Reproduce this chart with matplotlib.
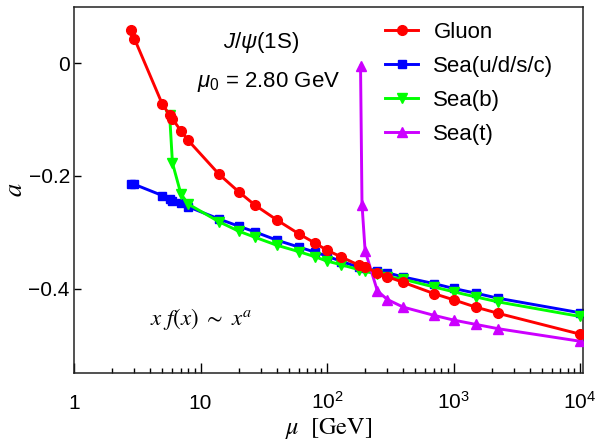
import numpy as np
import matplotlib
matplotlib.use("Agg")
import matplotlib.pyplot as plt

plt.rcParams['font.family'] = ['Liberation Sans', 'DejaVu Sans']
plt.rcParams['mathtext.fontset'] = 'custom'
plt.rcParams['mathtext.rm'] = 'Liberation Sans'
plt.rcParams['mathtext.it'] = 'Liberation Sans:italic'

# data
mu_gluon = [2.8, 3.0, 5.0, 5.7, 6.0, 7, 8, 14, 20, 27, 40, 60, 80, 100, 130,
            180, 200, 250, 300, 400, 700, 1000, 1500, 2250, 10000]
a_gluon = [0.059, 0.044, -0.073, -0.0915, -0.0986, -0.120, -0.137, -0.197, -0.228,
           -0.252, -0.278, -0.303, -0.319, -0.332, -0.344, -0.359, -0.362, -0.372,
           -0.379, -0.389, -0.409, -0.420, -0.433, -0.444, -0.481]

mu_sea = mu_gluon
a_sea = [-0.2142, -0.2150, -0.2349, -0.2410, -0.2440, -0.2478, -0.2549, -0.2765,
         -0.2892, -0.2995, -0.314, -0.3264, -0.3352, -0.3423, -0.352, -0.3623,
         -0.364, -0.3685, -0.372, -0.3795, -0.3912, -0.3998, -0.4083, -0.4172, -0.443]

mu_b = [5.7, 6.0, 7, 8, 14, 20, 27, 40, 60, 80, 100, 130, 180, 200, 250, 300,
        400, 700, 1000, 1500, 2250, 10000]
a_b = [-0.0915, -0.177, -0.232, -0.250, -0.2814, -0.298, -0.309, -0.323, -0.3345,
       -0.3434, -0.3512, -0.3579, -0.3667, -0.3694, -0.3747, -0.3788, -0.3835,
       -0.3972, -0.4057, -0.4149, -0.4237, -0.4496]

mu_t = [184, 189, 200, 250, 300, 400, 700, 1000, 1500, 2250, 10000]
a_t = [-0.005, -0.2508, -0.333, -0.4042, -0.4195, -0.433, -0.4476, -0.456,
       -0.4637, -0.4713, -0.4936]

xticks = [1, 10, 100, 1000, 10000]
xticklabels = ['1', '10', '$10^2$', '$10^3$', '$10^4$']
yticks = [0, -0.2, -0.4]
yticklabels = ['0', '\u22120.2', '\u22120.4']

fig = plt.figure(figsize=(5.95, 4.4), dpi=100)
ax = fig.add_axes([74/595, 67/440, 509/595, 366/440])

lw = 2.1
l_sea, = ax.plot(mu_sea, a_sea, color='#0000ff', marker='s', ms=6, lw=lw,
                 label='Sea(u/d/s/c)', zorder=2)
l_b, = ax.plot(mu_b, a_b, color='#00ff00', marker='v', ms=7, lw=lw,
               label='Sea(b)', zorder=3)
l_t, = ax.plot(mu_t, a_t, color='#cc00ff', marker='^', ms=7, lw=lw,
               label='Sea(t)', zorder=4)
l_g, = ax.plot(mu_gluon, a_gluon, color='#ff0000', marker='o', ms=7, lw=lw,
               label='Gluon', zorder=5)

ax.set_xscale('log')
ax.set_xlim(1, 10550)
ax.set_ylim(-0.55, 0.1)
ax.set_xticks(xticks)
ax.set_xticklabels(xticklabels)
ax.set_yticks(yticks)
ax.set_yticklabels(yticklabels)

for s in ax.spines.values():
    s.set_color('#222222')
    s.set_linewidth(1.1)
ax.tick_params(axis='x', which='major', direction='in', length=7, width=1,
               pad=26, labelsize=15, top=False)
ax.tick_params(axis='x', which='minor', direction='in', length=3.6, width=1, top=False)
ax.tick_params(axis='y', which='major', direction='in', length=5, width=1,
               pad=3, labelsize=15, right=False)
ax.tick_params(axis='y', which='minor', left=False, right=False)
for t in ax.get_xticklabels():
    t.set_verticalalignment('baseline')

ax.set_xlabel(r'$\mu\ \ \mathrm{[GeV]}$', math_fontfamily='stix', fontsize=17.5)
ax.xaxis.set_label_coords(0.5, -0.118)
ax.set_ylabel(r'$a$', math_fontfamily='stix', fontsize=19)
ax.yaxis.set_label_coords(-0.092, 0.5)

ax.text(0.368, 0.902, r'$J/\psi$(1S)', transform=ax.transAxes, fontsize=16,
        ha='center', va='center')
ax.text(0.382, 0.794, r'$\mu_{0}$ = 2.80 GeV', transform=ax.transAxes, fontsize=16,
        ha='center', va='center')
ax.text(0.149, 0.148, r'$x\ f(x)\ \sim\ x^{a}$', transform=ax.transAxes,
        math_fontfamily='stix', fontsize=16.5, ha='left', va='center')

ax.legend(handles=[l_g, l_sea, l_b, l_t], loc='upper left',
          bbox_to_anchor=(385/595, 1 - 22/440), bbox_transform=fig.transFigure,
          frameon=False, fontsize=16, numpoints=1, handlelength=1.5,
          handletextpad=0.68, labelspacing=0.58, borderpad=0, borderaxespad=0)

fig.savefig('out.png', dpi=100)
